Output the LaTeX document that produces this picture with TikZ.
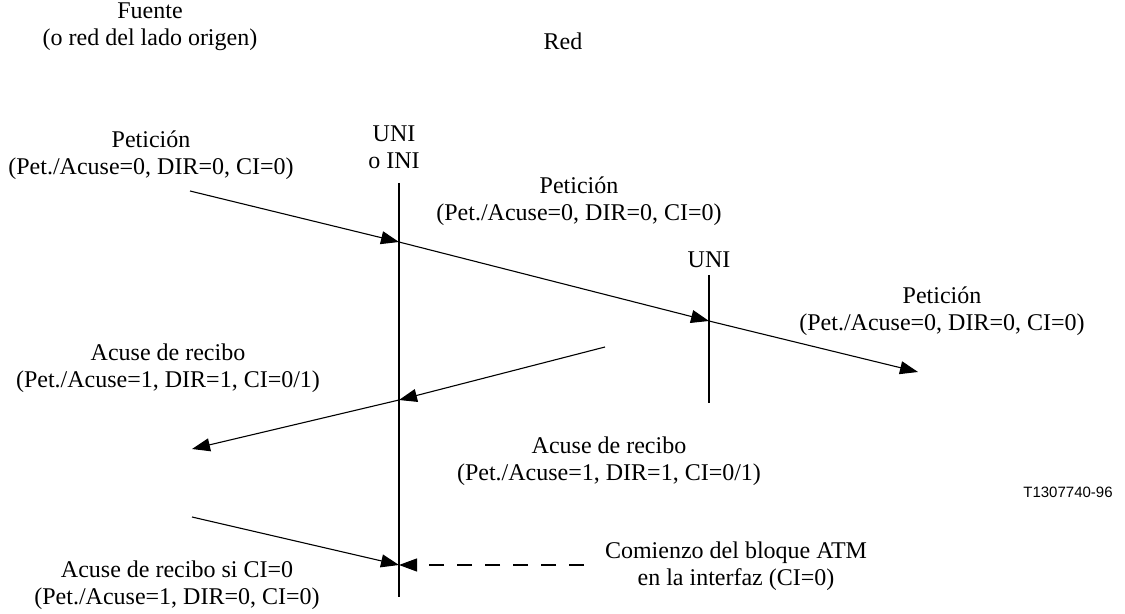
\documentclass[tikz,border=0pt]{standalone}
\usepackage{fontspec}
\setmainfont{Liberation Serif}
\newfontfamily\tagfont{Liberation Sans}
\usetikzlibrary{arrows.meta}

\begin{document}
\begin{tikzpicture}[x=0.5pt, y=-0.5pt,
   lbl/.style={align=center, inner sep=0pt, font=\fontsize{12}{13.5}\selectfont},
   wire/.style={line width=0.55pt},
   msg/.style={line width=0.55pt, -{Triangle[length=9pt, width=6.5pt]}},
   cellstart/.style={msg, dash pattern=on 7.5pt off 6.5pt}]
   \useasboundingbox (0,0) rectangle (1125,614);

   % interfaces
   \coordinate (v1top) at (399,183);
   \coordinate (v1bot) at (399,597);
   \coordinate (v2top) at (709,275);
   \coordinate (v2bot) at (709,403);
   \draw[wire] (v1top) -- (v1bot);
   \draw[wire] (v2top) -- (v2bot);

   \node[lbl] (fuente) at (150,27) {Fuente\\(o red del lado origen)};
   \node[lbl] (red) at (563,41) {Red};
   \node[lbl] (uni1) at (394,147) {UNI\\o INI};
   \node[lbl] (uni2) at (709,260) {UNI};

   % peticion
   \coordinate (p0) at (190,191);
   \coordinate (p1) at (399,242);
   \coordinate (p2) at (709,321);
   \coordinate (p3) at (918,372);
   \draw[msg] (p0) -- (p1);
   \draw[msg] (p1) -- (p2);
   \draw[msg] (p2) -- (p3);
   \node[lbl] (pet1) at (151,155) {Petici\'on\\(Pet./Acuse=0, DIR=0, CI=0)};
   \node[lbl] (pet2) at (579,201) {Petici\'on\\(Pet./Acuse=0, DIR=0, CI=0)};
   \node[lbl] (pet3) at (942,311) {Petici\'on\\(Pet./Acuse=0, DIR=0, CI=0)};

   % acuse de recibo
   \coordinate (a0) at (605,347);
   \coordinate (a1) at (399,400);
   \coordinate (a2) at (192,449);
   \draw[msg] (a0) -- (a1);
   \draw[msg] (a1) -- (a2);
   \node[lbl] (ack1) at (168,368) {Acuse de recibo\\(Pet./Acuse=1, DIR=1, CI=0/1)};
   \node[lbl] (ack2) at (609,461) {Acuse de recibo\\(Pet./Acuse=1, DIR=1, CI=0/1)};

   \node[inner sep=0pt, font=\tagfont\fontsize{7.5}{9}\selectfont] (tag) at (1068,492) {T1307740-96};

   % acuse si CI=0
   \coordinate (c0) at (192,517);
   \coordinate (c1) at (399,565);
   \coordinate (d0) at (584,565);
   \draw[msg] (c0) -- (c1);
   \draw[cellstart] (d0) -- (c1);
   \node[lbl] (ack3) at (177,585) {Acuse de recibo si CI=0\\(Pet./Acuse=1, DIR=0, CI=0)};
   \node[lbl] (atm) at (736,566) {Comienzo del bloque ATM\\en la interfaz (CI=0)};
\end{tikzpicture}
\end{document}
